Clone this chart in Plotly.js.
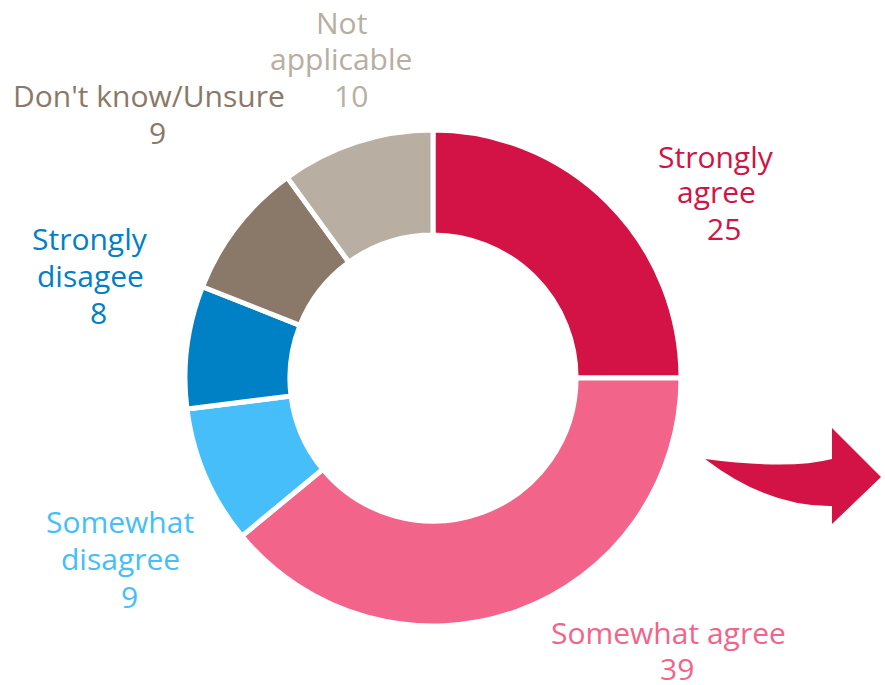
<!DOCTYPE html>
<html><head><meta charset="utf-8">
<script src="https://cdn.plot.ly/plotly-3.0.1.min.js"></script>
<style>html,body{margin:0;padding:0;background:#fff;}#chart{width:885px;height:685px;}</style>
</head><body><div id="chart"></div>
<script>
const categories = ["Strongly agree","Somewhat agree","Somewhat disagree","Strongly disagee","Don't know/Unsure","Not applicable"];
const labelLines = [["Strongly","agree"],["Somewhat agree"],["Somewhat","disagree"],["Strongly","disagee"],["Don't know/Unsure"],["Not","applicable"]];
const values = [25,39,9,8,9,10];
const colors = ["#D31245","#F2648A","#45BEFA","#0080C5","#8A7968","#B8AEA2"];

const W = 885, H = 685;
const px = x => x / W, py = y => 1 - y / H;
const cx = 433, cy = 378, R = 248;

// per-line label centre positions in pixels (text lines, then value line)
const linePos = [
  [[716,156],[716,192],[724,228.5]],
  [[668,632.5],[677,668.5]],
  [[120,521.5],[120,558],[129,596]],
  [[90,239],[90,275.5],[98.5,312.5]],
  [[148.5,96],[157,132.5]],
  [[341,22.5],[341,59],[351,96]]
];

const annotations = [];
categories.forEach((c,i) => {
  const lines = labelLines[i].concat([String(values[i])]);
  lines.forEach((t,j) => {
    annotations.push({
      xref:'paper', yref:'paper', x:px(linePos[i][j][0]), y:py(linePos[i][j][1]),
      xanchor:'center', yanchor:'middle', showarrow:false, align:'center',
      text:t, font:{family:'Open Sans, Noto Sans, sans-serif', size:30, color:colors[i]}
    });
  });
});

function P(x,y){return px(x).toFixed(5)+','+py(y).toFixed(5);}
const arrowPath = 'M'+P(705,459)+' Q'+P(790,470)+' '+P(832,459)+' L'+P(832,428)+' L'+P(881,477)+' L'+P(832,524)+' L'+P(832,506)+' Q'+P(768,507)+' '+P(705,459)+' Z';

const data = [{
  type:'pie', labels:categories, values:values, hole:0.577, sort:false,
  direction:'clockwise', rotation:0, textinfo:'none', hoverinfo:'label+value',
  marker:{colors:colors, line:{color:'#ffffff', width:5}},
  domain:{x:[(cx-R)/W,(cx+R)/W], y:[1-(cy+R)/H, 1-(cy-R)/H]},
  showlegend:false
}];
const layout = {
  width:W, height:H, margin:{l:0,r:0,t:0,b:0}, paper_bgcolor:'#fff', plot_bgcolor:'#fff',
  showlegend:false, annotations:annotations,
  shapes:[{type:'path', xref:'paper', yref:'paper', path:arrowPath, fillcolor:'#D31245', line:{width:0}}]
};
Plotly.newPlot('chart', data, layout, {displayModeBar:false, staticPlot:true});
</script></body></html>
